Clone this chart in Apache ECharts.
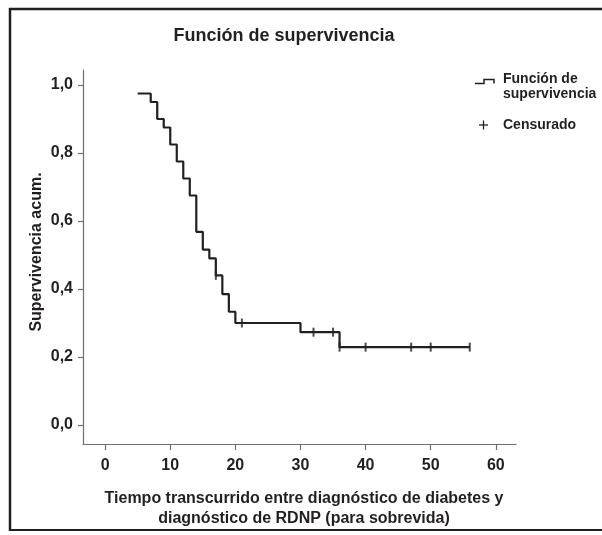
<!DOCTYPE html>
<html>
<head>
<meta charset="utf-8">
<script src="https://cdn.jsdelivr.net/npm/echarts@6/dist/echarts.min.js"></script>
<style>
html,body{margin:0;padding:0;background:#fff;}
#chart{width:602px;height:535px;}
</style>
</head>
<body>
<div id="chart"></div>
<script>
// Step points of the survival function: value after each event time
var eventTimes = [5, 7, 8, 9, 10, 11, 12, 13, 14, 15, 16, 17, 18, 19, 20, 30, 36, 56];
var survival = [0.975, 0.95, 0.9, 0.875, 0.825, 0.775, 0.725, 0.675, 0.568, 0.516, 0.49, 0.44, 0.385, 0.333, 0.30, 0.273, 0.229, 0.229];
// Censored observations
var censorTimes = [17, 21, 32, 35, 36, 40, 47, 50, 56];
var censorValues = [0.44, 0.30, 0.273, 0.273, 0.229, 0.229, 0.229, 0.229, 0.229];
// Tick labels
var xTicks = [0, 10, 20, 30, 40, 50, 60];
var yTicks = [0.0, 0.2, 0.4, 0.6, 0.8, 1.0];

var titleText = 'Función de supervivencia';
var xName = 'Tiempo transcurrido entre diagnóstico de diabetes y\ndiagnóstico de RDNP (para sobrevida)';
var yName = 'Supervivencia acum.';
var legendLine = 'Función de\nsupervivencia';
var legendCensor = 'Censurado';

var FONT = '"Liberation Sans", Arial, sans-serif';
var INK = '#231f20';

var chart = echarts.init(document.getElementById('chart'), null, {renderer: 'canvas'});

var stepData = eventTimes.map(function (t, i) { return [t, survival[i]]; });
var censorData = censorTimes.map(function (t, i) { return [t, censorValues[i]]; });

chart.setOption({
  animation: false,
  backgroundColor: '#fff',
  title: {
    text: titleText,
    left: 279, top: 22, textAlign: 'center',
    textStyle: {fontFamily: FONT, fontWeight: 'bold', fontSize: 18, color: INK}
  },
  grid: {left: 83, right: 86, top: 70, bottom: 91, containLabel: false},
  xAxis: {
    type: 'value',
    min: -3.4, max: 63.1,
    splitLine: {show: false},
    axisLine: {show: true, onZero: false, lineStyle: {color: '#6d6e71', width: 1.2}},
    axisTick: {show: true, length: 6, customValues: xTicks, lineStyle: {color: '#6d6e71', width: 1.2}},
    axisLabel: {
      customValues: xTicks, margin: 14,
      fontFamily: FONT, fontWeight: 'bold', fontSize: 16, color: INK,
      formatter: function (v) { return String(Math.round(v)); }
    },
    name: xName,
    nameLocation: 'middle',
    nameGap: 45,
    nameMoveOverlap: false,
    nameTextStyle: {fontFamily: FONT, fontWeight: 'bold', fontSize: 16, color: INK, lineHeight: 20, padding: [0, 0, 0, 9]}
  },
  yAxis: {
    type: 'value',
    min: -0.0559, max: 1.0441,
    splitLine: {show: false},
    axisLine: {show: true, onZero: false, lineStyle: {color: '#6d6e71', width: 1.2}},
    axisTick: {show: true, length: 5, customValues: yTicks, lineStyle: {color: '#6d6e71', width: 1.2}},
    axisLabel: {
      customValues: yTicks, margin: 10,
      fontFamily: FONT, fontWeight: 'bold', fontSize: 16, color: INK,
      formatter: function (v) { return v.toFixed(1).replace('.', ','); }
    },
    name: yName,
    nameLocation: 'middle',
    nameGap: 38,
    nameMoveOverlap: false,
    nameRotate: 90,
    nameTextStyle: {fontFamily: FONT, fontWeight: 'bold', fontSize: 16, color: INK, padding: [0, 0, 0, 10]}
  },
  series: [
    {
      name: 'Función de supervivencia',
      type: 'line',
      step: 'end',
      data: stepData,
      showSymbol: false,
      symbol: 'none',
      lineStyle: {color: INK, width: 2.2},
      z: 2
    },
    {
      name: 'Censurado',
      type: 'scatter',
      data: censorData,
      symbol: 'rect',
      symbolSize: [2, 9],
      itemStyle: {color: INK},
      z: 3
    }
  ],
  graphic: [
    // frame
    {type: 'line', shape: {x1: 9, y1: 9, x2: 602, y2: 9}, style: {stroke: INK, lineWidth: 2.5}},
    {type: 'line', shape: {x1: 10, y1: 8, x2: 10, y2: 531}, style: {stroke: INK, lineWidth: 2.5}},
    {type: 'line', shape: {x1: 9, y1: 530, x2: 602, y2: 530}, style: {stroke: INK, lineWidth: 2}},
    // legend: step icon
    {type: 'polyline', shape: {points: [[475, 83.5], [484, 83.5], [484, 79.5], [494, 79.5], [494, 83.5]]}, style: {stroke: INK, lineWidth: 1.5, fill: null}},
    {type: 'text', left: 503, top: 72, style: {text: legendLine, fontFamily: FONT, fontWeight: 'bold', fontSize: 14, lineHeight: 15, fill: INK}},
    // legend: censor mark
    {type: 'line', shape: {x1: 479, y1: 125, x2: 488, y2: 125}, style: {stroke: INK, lineWidth: 1.3}},
    {type: 'line', shape: {x1: 483.5, y1: 120.5, x2: 483.5, y2: 129.5}, style: {stroke: INK, lineWidth: 1.3}},
    {type: 'text', left: 503, top: 118, style: {text: legendCensor, fontFamily: FONT, fontWeight: 'bold', fontSize: 14, fill: INK}}
  ]
});
</script>
</body>
</html>
